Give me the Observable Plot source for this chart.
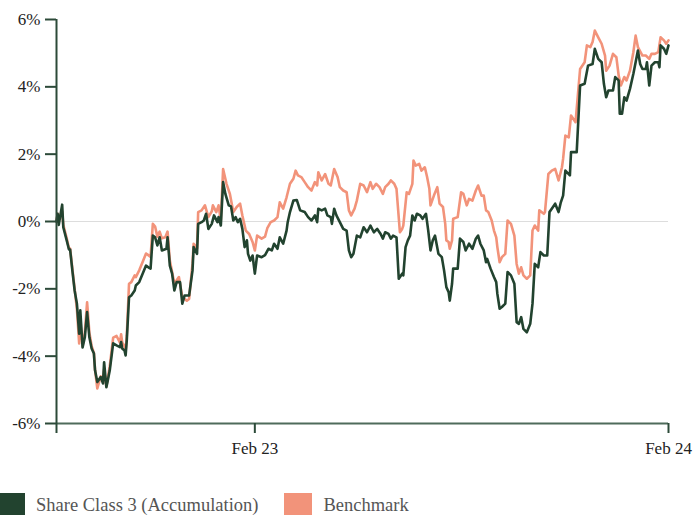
<!DOCTYPE html>
<html>
<head>
<meta charset="utf-8">
<script src="https://cdn.jsdelivr.net/npm/d3@7"></script>
<script src="https://cdn.jsdelivr.net/npm/@observablehq/plot@0.6"></script>
<style>
  body { margin: 0; background: #fff; font-family: 'Liberation Serif', serif; }
  #legend { display: flex; align-items: center; padding-top: 23px; font-size: 18.5px; color: #555; font-family: 'Liberation Serif', serif; }
  .sw { width: 28px; height: 25px; display: inline-block; margin-right: 11px; }
  .item { display: flex; align-items: center; margin-right: 26px; }
  .item:first-child { margin-left: -3px; }
</style>
</head>
<body>
<div id="chart"></div>
<div id="legend"></div>
<script>
// Start of the period and axis tick labels
const startDate = "2022-08-10";
const endDate = "2024-02-01";
const tickDates = ["2022-08-10", "2023-02-01", "2024-02-01"];
const tickLabels = ["", "Feb 23", "Feb 24"];
const yTicks = [-6, -4, -2, 0, 2, 4, 6];
const seriesNames = ["Share Class 3 (Accumulation)", "Benchmark"];
const seriesColors = ["#22432f", "#f2937a"];

// Share Class 3 (Accumulation): day offset from start, cumulative return %
const shareDays = [0,1,2,5,6,9,11,12,14,16,18,20,21,23,25,27,29,31,33,34,36,39,41,42,44,45,47,50,53,56,57,58,60,61,62,64,66,69,70,73,76,79,81,83,85,87,89,91,93,97,98,100,102,104,106,109,111,113,117,120,121,124,125,128,130,132,134,137,139,142,143,145,147,149,152,154,156,158,160,162,164,166,168,169,171,173,175,177,181,184,187,190,192,195,197,200,203,204,206,209,212,215,219,222,225,228,230,231,234,237,239,242,243,245,247,250,253,256,258,260,262,265,268,271,274,277,280,283,286,288,290,293,295,297,300,302,305,306,308,310,312,314,316,318,321,323,326,328,330,332,334,337,340,342,344,346,347,349,350,354,356,359,361,364,367,370,372,374,377,379,380,383,386,388,389,391,393,396,398,401,404,406,408,410,412,415,418,420,422,425,427,430,433,435,437,440,443,445,447,449,453,454,459,462,466,469,473,475,478,481,483,485,487,491,493,496,497,499,501,503,506,509,511,513,515,517,520,521,523,525,528,531,532,533,536,538,540];
const shareValues = [0,0.23,-0.1,0.5,-0.17,-0.56,-0.83,-0.83,-1.46,-2.05,-2.44,-3.33,-2.64,-3.74,-3.44,-2.69,-3.44,-3.77,-3.92,-4.42,-4.77,-4.62,-4.81,-4.18,-4.92,-4.77,-4.42,-3.62,-3.68,-3.73,-3.58,-3.77,-3.83,-3.98,-3.53,-2.25,-2.2,-2.05,-1.9,-1.8,-1.55,-1.31,-1.36,-1.4,-0.42,-0.47,-0.71,-0.47,-0.86,-0.81,-0.47,-1.31,-1.55,-2.05,-1.8,-1.8,-2.44,-2.2,-2.2,-1.46,-0.76,-0.96,-0.07,-0.02,0.03,0.23,-0.22,-0.07,0.18,-0.02,0.13,-0.12,1.17,0.82,0.48,0.45,0.03,0.13,-0.02,0.08,-0.22,-0.76,-0.56,-0.96,-1.16,-1.01,-1.55,-1.01,-1.06,-1.0,-0.81,-0.86,-0.66,-0.81,-0.47,-0.66,-0.27,-0.02,0.28,0.62,0.64,0.33,0.28,0.13,0.03,0.18,-0.02,0.38,0.33,0.38,0.18,0.13,-0.07,0.38,0.18,-0.02,-0.22,-0.27,-0.86,-1.06,-0.96,-0.42,-0.47,-0.17,-0.32,-0.12,-0.32,-0.22,-0.37,-0.51,-0.32,-0.37,-0.51,-0.42,-0.47,-1.7,-1.55,-1.6,-0.76,-0.56,-0.42,0.18,0.03,0.23,0.18,0.08,0.23,-0.27,-0.86,-0.56,-0.42,-0.96,-1.06,-1.46,-1.95,-2.1,-2.35,-1.85,-1.4,-1.4,-0.51,-0.61,-0.86,-0.66,-0.81,-0.51,-0.42,-0.66,-0.86,-1.21,-1.11,-1.4,-1.65,-1.8,-2.15,-2.59,-2.54,-2.44,-1.5,-1.6,-1.85,-2.99,-3.04,-2.84,-3.19,-3.29,-3.04,-2.44,-1.26,-1.36,-0.91,-1.01,-1.01,0.28,0.38,0.53,0.28,0.57,0.77,1.51,1.37,2.06,2.06,4.04,4.09,4.63,4.68,5.13,4.83,4.73,4.09,3.69,3.89,3.89,4.29,4.19,3.2,3.2,3.69,3.59,3.94,4.39,4.73,5.08,4.68,4.53,4.53,4.73,4.04,4.63,4.73,4.73,4.58,5.23,5.13,4.98,5.23];

// Benchmark: day offset from start, cumulative return %
const benchDays = [0,1,2,5,6,9,11,12,14,16,18,20,21,23,25,27,29,31,33,34,36,39,41,42,44,45,47,50,53,56,57,58,60,61,62,64,66,69,70,73,76,79,81,83,85,87,89,91,93,96,98,100,102,104,108,111,115,117,120,121,124,125,128,131,134,137,138,141,143,145,147,150,153,156,159,162,164,167,170,173,175,177,181,184,186,189,192,195,197,200,203,206,209,211,213,216,219,222,225,228,230,231,234,237,240,242,245,248,250,253,256,258,260,263,265,268,271,274,277,279,282,285,288,290,293,295,298,300,303,305,306,309,311,314,315,317,320,322,325,327,329,330,333,336,338,341,343,344,346,347,349,350,354,357,359,362,364,367,370,372,375,377,379,381,384,386,388,389,391,393,396,398,401,404,406,408,410,412,415,418,420,422,425,426,430,431,434,437,440,443,446,447,449,452,454,458,462,466,468,471,473,475,478,481,484,485,488,491,494,496,498,501,503,506,509,511,513,517,520,523,525,528,531,533,536,538,540];
const benchValues = [0,0.23,0.1,0.3,-0.1,-0.5,-0.8,-0.8,-1.4,-2.0,-2.6,-3.62,-2.9,-3.7,-3.3,-2.4,-3.3,-3.7,-3.9,-4.4,-4.96,-4.6,-4.7,-4.4,-4.9,-4.7,-4.3,-3.45,-3.4,-3.6,-3.35,-3.6,-3.7,-3.85,-3.4,-1.85,-1.8,-1.6,-1.65,-1.45,-1.2,-0.95,-1.0,-1.05,-0.07,-0.15,-0.45,-0.3,-0.5,-0.47,-0.3,-1.16,-1.5,-1.85,-1.65,-2.25,-2.35,-2.3,-1.26,-0.66,-0.8,0.28,0.33,0.48,0.13,0.3,0.48,0.28,0.48,0.03,1.56,1.12,0.82,0.28,0.43,0.53,0.18,-0.27,-0.37,-0.61,-0.86,-0.42,-0.51,-0.45,-0.2,-0.02,0.03,0.13,0.57,0.38,0.72,1.12,1.27,1.51,1.37,1.32,1.17,1.02,0.92,1.17,1.07,1.46,1.22,1.41,1.12,1.07,1.56,1.32,1.02,0.92,0.87,0.33,0.18,0.38,0.62,1.12,1.07,0.87,1.17,0.97,1.12,1.02,0.82,1.02,1.12,1.22,1.12,0.97,-0.32,-0.22,-0.12,0.87,0.82,1.12,1.81,1.66,1.71,1.51,1.61,1.32,0.97,0.48,0.77,1.02,0.53,0.43,-0.07,-0.56,-0.61,-0.81,-0.56,0.08,0.13,0.87,0.82,0.48,0.67,0.62,0.92,1.07,0.77,0.77,0.33,0.28,0.03,-0.27,-0.47,-0.76,-1.21,-1.06,-0.96,0.03,-0.07,-0.42,-1.26,-1.55,-1.36,-1.6,-1.7,-1.6,-0.27,-0.12,-0.27,0.33,0.23,0.28,1.41,1.51,1.56,1.22,1.61,1.86,2.55,2.5,3.15,2.95,4.53,4.73,5.23,5.18,5.33,5.67,5.47,5.28,4.93,4.48,4.63,4.98,4.88,4.34,4.04,4.29,4.19,4.48,5.03,5.52,5.18,4.93,4.93,4.83,4.98,4.98,5.03,5.47,5.38,5.28,5.38];

const start = new Date(startDate);
const toRows = (days, values) => days.map((d, i) => ({date: d3.utcDay.offset(start, d), value: values[i]}));
const shareRows = toRows(shareDays, shareValues);
const benchRows = toRows(benchDays, benchValues);
const ticks = tickDates.map(d => new Date(d));
const labelOf = new Map(ticks.map((t, i) => [+t, tickLabels[i]]));

const axisColor = "#2c4a39";

const chart = Plot.plot({
  width: 694,
  height: 470,
  marginLeft: 56,
  marginRight: 26,
  marginTop: 19,
  marginBottom: 47,
  style: {fontFamily: "'Liberation Serif', serif", fontSize: "17px", color: "#222", background: "#fff"},
  x: {type: "utc", domain: [new Date(startDate), new Date(endDate)]},
  y: {domain: [-6, 6]},
  marks: [
    Plot.ruleY([0], {stroke: "#dddddd", strokeWidth: 1.2}),
    Plot.line(benchRows, {x: "date", y: "value", stroke: seriesColors[1], strokeWidth: 2.6}),
    Plot.line(shareRows, {x: "date", y: "value", stroke: seriesColors[0], strokeWidth: 2.6}),
    Plot.ruleY([-6], {stroke: "#4e6b5b", strokeWidth: 2}),
    Plot.ruleX([new Date(startDate)], {y1: -6, y2: 6, stroke: axisColor, strokeWidth: 2}),
    Plot.axisY({ticks: yTicks, tickFormat: d => d + "%", tickSize: 11, tickPadding: 5, stroke: axisColor, strokeWidth: 2, label: null, fill: "#222", fontFamily: "'Liberation Serif', serif", fontSize: 17}),
    Plot.axisX({ticks: ticks, tickFormat: d => labelOf.get(+d), tickSize: 10, tickPadding: 8, stroke: axisColor, strokeWidth: 2, label: null, fill: "#222", fontFamily: "'Liberation Serif', serif", fontSize: 17})
  ]
});
document.getElementById("chart").appendChild(chart);

const legend = document.getElementById("legend");
seriesNames.forEach((name, i) => {
  const item = document.createElement("span");
  item.className = "item";
  const sw = document.createElement("span");
  sw.className = "sw";
  sw.style.background = seriesColors[i];
  item.appendChild(sw);
  item.appendChild(document.createTextNode(name));
  legend.appendChild(item);
});
</script>
</body>
</html>
